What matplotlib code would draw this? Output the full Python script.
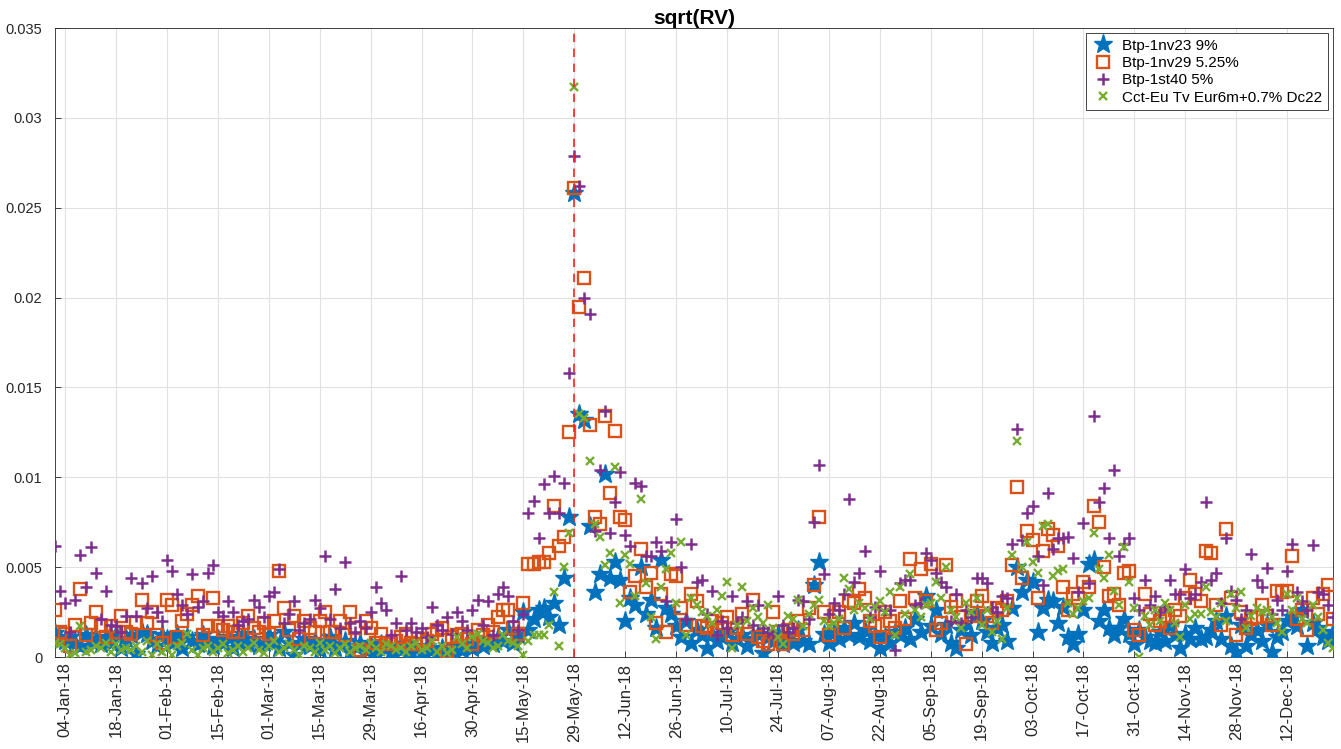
import numpy as np
import pandas as pd
import matplotlib
matplotlib.use("Agg")
import matplotlib.pyplot as plt

plt.rcParams["font.family"] = ["Liberation Sans", "DejaVu Sans"]

# trading days 2018 (Italian market holidays removed)
HOLIDAYS = ["2018-03-30", "2018-04-02", "2018-05-01", "2018-08-15",
            "2018-12-24", "2018-12-25", "2018-12-26"]
days = pd.bdate_range("2018-01-02", "2018-12-28")
days = days[~days.isin(pd.to_datetime(HOLIDAYS))]

SERIES_NAMES = ["Btp-1nv23 9%", "Btp-1nv29 5.25%", "Btp-1st40 5%",
                "Cct-Eu Tv Eur6m+0.7% Dc22"]
EVENT_DATE = "2018-05-29"

# sqrt(RV), in units of 1e-3
btp_1nv23 = [
    1.35, 1.0, 0.9, 1.1, 0.8, 0.6, 1.2, 0.9, 1.0, 0.7,
    1.1, 0.8, 1.3, 0.5, 1.0, 1.2, 0.15, 1.4, 1.3, 0.9,
    0.6, 1.2, 1.0, 0.8, 1.3, 0.5, 1.1, 0.9, 0.7, 1.2,
    0.9, 0.6, 1.0, 0.8, 1.1, 0.5, 0.9, 1.3, 0.7, 1.0,
    0.6, 0.8, 1.2, 0.9, 0.5, 1.4, 0.8, 0.1, 0.7, 1.0,
    0.6, 0.9, 0.4, 0.8, 1.1, 0.5, 0.7, 0.9, 0.3, 0.6,
    0.8, 0.4, 0.6, 0.3, 0.7, 0.5, 0.2, 0.6, 0.4, 0.7,
    0.3, 0.5, 0.2, 0.6, 0.4, 0.1, 0.5, 0.3, 0.2, 0.6,
    0.4, 0.7, 0.5, 0.9, 0.6, 1.0, 0.7, 1.1, 0.9, 1.5,
    0.8, 1.2, 2.5, 1.5, 2.1, 2.6, 2.7, 2.2, 3.0, 1.8,
    4.4, 7.8, 25.8, 13.5, 13.2, 7.3, 3.6, 4.6, 10.2, 4.4,
    5.3, 4.3, 2.0, 3.3, 2.9, 5.0, 2.4, 3.2, 1.6, 5.4,
    2.7, 2.4, 1.7, 1.1, 2.0, 0.8, 1.5, 1.2, 0.5, 1.3,
    0.9, 1.1, 1.4, 0.8, 1.0, 1.2, 0.6, 1.0, 1.3, 0.2,
    1.1, 0.9, 1.3, 0.7, 1.2, 0.8, 1.5, 0.9, 0.7, 4.0,
    5.3, 1.3, 0.8, 1.4, 1.0, 1.6, 1.2, 1.9, 1.1, 1.5,
    0.9, 1.2, 0.5, 1.1, 0.8, 1.4, 1.2, 1.6, 1.0, 2.1,
    1.4, 3.4, 1.7, 2.6, 1.3, 1.8, 0.8, 0.5, 1.5, 1.9,
    1.2, 2.4, 2.0, 1.4, 0.8, 1.6, 1.8, 0.9, 2.7, 5.0,
    3.6, 4.3, 4.2, 1.4, 2.7, 3.2, 3.1, 1.9, 2.8, 1.1,
    0.7, 1.3, 2.6, 5.2, 5.4, 2.0, 2.6, 1.6, 1.2, 1.6,
    2.1, 1.3, 0.75, 1.5, 1.1, 0.9, 0.8, 1.4, 0.9, 1.7,
    1.2, 0.5, 1.3, 1.0, 1.6, 1.0, 1.1, 1.5, 2.0, 1.0,
    2.3, 0.6, 0.3, 1.8, 0.6, 1.2, 1.5, 0.9, 1.8, 0.3,
    1.1, 1.4, 2.0, 2.2, 1.7, 2.6, 0.6, 1.9, 1.6, 1.1,
    0.9, 1.4,
]
btp_1nv29 = [
    2.6, 1.4, 1.3, 0.6, 1.8, 3.8, 1.25, 1.9, 2.5, 1.7,
    1.1, 1.7, 1.4, 2.3, 1.4, 1.3, 1.9, 3.2, 1.9, 2.5,
    1.2, 0.8, 3.2, 2.9, 1.1, 2.0, 2.4, 2.9, 3.4, 1.2,
    1.7, 3.3, 1.7, 1.5, 1.7, 1.4, 1.4, 1.9, 2.3, 1.6,
    1.4, 1.9, 1.3, 2.0, 4.8, 2.7, 1.5, 2.3, 1.0, 2.0,
    1.6, 1.4, 2.0, 2.5, 1.4, 1.4, 2.0, 1.2, 2.5, 1.6,
    0.4, 2.0, 1.6, 0.8, 1.3, 0.8, 0.7, 0.9, 1.1, 1.3,
    0.8, 0.7, 1.0, 0.9, 1.3, 1.5, 1.6, 0.3, 1.1, 1.2,
    1.3, 1.0, 0.7, 1.5, 1.2, 1.8, 1.4, 2.2, 2.6, 2.6,
    1.6, 1.3, 3.0, 5.2, 5.2, 5.3, 5.3, 5.8, 8.4, 6.2,
    6.7, 12.5, 26.1, 19.5, 21.1, 12.9, 7.8, 7.4, 13.4, 9.1,
    12.6, 7.8, 7.6, 3.6, 4.5, 6.0, 3.9, 4.7, 1.9, 3.5,
    1.4, 4.6, 4.5, 2.7, 1.8, 3.5, 3.1, 1.7, 1.6, 2.0,
    1.5, 1.9, 2.2, 1.2, 1.6, 2.4, 1.3, 3.2, 1.1, 0.9,
    0.7, 2.5, 1.4, 0.7, 1.5, 1.3, 2.0, 1.5, 2.7, 4.0,
    7.8, 2.5, 1.2, 2.3, 2.5, 1.6, 3.1, 3.0, 3.8, 3.3,
    2.0, 1.7, 1.1, 2.5, 2.0, 1.6, 3.1, 2.1, 5.45, 3.3,
    4.9, 3.1, 5.2, 1.5, 1.9, 5.1, 2.8, 3.1, 2.2, 0.7,
    2.3, 3.1, 3.4, 2.3, 1.9, 2.7, 2.6, 3.1, 5.1, 9.45,
    4.4, 7.0, 6.5, 3.3, 5.9, 7.1, 6.8, 6.2, 3.9, 2.6,
    3.5, 3.3, 4.2, 3.9, 8.4, 7.5, 5.0, 3.4, 3.5, 2.9,
    4.7, 4.8, 1.5, 1.2, 3.5, 2.4, 1.8, 2.0, 2.3, 1.6,
    2.6, 2.3, 3.3, 4.3, 3.5, 3.1, 5.9, 5.8, 2.9, 1.8,
    7.1, 3.3, 1.2, 2.5, 1.6, 2.1, 2.2, 2.9, 2.3, 1.8,
    3.7, 3.6, 3.7, 5.6, 2.1, 2.6, 1.5, 3.3, 2.4, 3.5,
    4.0, 2.1,
]
btp_1st40 = [
    6.2, 3.7, 3.0, 1.4, 3.2, 5.7, 3.9, 6.1, 4.7, 2.1,
    3.7, 1.8, 1.7, 1.4, 2.3, 4.4, 2.3, 4.1, 2.7, 4.5,
    2.5, 2.0, 5.4, 4.8, 3.5, 2.9, 2.4, 4.6, 2.8, 3.1,
    4.7, 5.1, 2.5, 2.3, 3.1, 2.5, 1.8, 2.0, 2.1, 3.2,
    2.8, 2.2, 3.4, 3.6, 4.9, 1.9, 2.4, 3.1, 1.5, 1.9,
    2.1, 3.2, 2.7, 5.6, 2.1, 3.8, 1.6, 5.3, 1.9, 1.4,
    2.0, 1.6, 2.5, 3.9, 3.0, 2.6, 1.2, 1.9, 4.5, 1.5,
    1.9, 1.4, 1.6, 1.1, 2.8, 1.8, 1.5, 2.2, 1.3, 2.5,
    2.0, 1.5, 2.6, 3.2, 1.8, 3.1, 1.2, 3.5, 3.9, 3.4,
    2.0, 1.5, 2.4, 8.0, 8.7, 6.6, 9.6, 8.0, 10.1, 8.0,
    9.7, 15.8, 27.9, 26.2, 20.0, 19.1, 7.0, 10.4, 13.7, 6.9,
    8.6, 10.3, 6.8, 6.2, 9.7, 9.5, 5.6, 5.6, 6.4, 5.9,
    3.1, 6.4, 7.7, 5.0, 2.1, 6.3, 4.2, 4.3, 2.4, 3.7,
    1.2, 2.0, 1.6, 3.4, 1.9, 2.2, 3.1, 1.8, 2.9, 1.6,
    1.4, 1.3, 3.4, 1.8, 1.4, 1.6, 3.2, 3.1, 2.1, 7.5,
    10.7, 4.6, 2.4, 3.0, 2.6, 3.5, 8.8, 4.2, 4.7, 5.9,
    2.2, 2.8, 4.8, 2.6, 2.6, 0.4, 4.1, 4.3, 4.3, 2.9,
    3.0, 5.8, 5.4, 4.7, 4.2, 3.9, 2.0, 3.5, 1.9, 2.6,
    2.2, 4.4, 4.4, 4.1, 2.8, 2.5, 3.4, 3.3, 6.3, 12.7,
    6.5, 8.0, 8.4, 5.6, 4.0, 9.1, 6.0, 6.6, 6.6, 6.7,
    5.5, 3.6, 7.45, 4.1, 13.4, 8.65, 9.4, 6.6, 10.4, 5.6,
    6.3, 6.6, 3.3, 2.6, 4.3, 2.9, 3.4, 2.5, 2.8, 4.3,
    3.5, 3.5, 4.9, 3.3, 3.5, 4.2, 8.65, 4.3, 4.7, 3.0,
    6.6, 3.7, 3.2, 2.1, 2.6, 5.75, 4.3, 3.9, 4.95, 2.4,
    3.2, 2.6, 4.8, 6.3, 3.6, 3.1, 2.6, 6.25, 3.6, 3.5,
    2.9, 2.2,
]
cct_dc22 = [
    0.8, 0.7, 0.5, 0.1, 0.2, 1.7, 0.3, 0.4, 0.6, 0.5,
    0.8, 0.3, 0.7, 0.4, 0.5, 0.4, 0.6, 0.3, 0.9, 0.1,
    0.7, 0.3, 0.5, 0.1, 0.6, 0.8, 1.3, 0.4, 0.1, 0.5,
    0.6, 0.3, 0.5, 0.7, 0.2, 0.4, 0.6, 0.3, 0.5, 0.8,
    0.4, 0.2, 0.6, 0.9, 0.3, 0.5, 0.7, 0.4, 0.1, 0.6,
    0.5, 0.3, 0.8, 0.4, 0.6, 0.2, 0.5, 0.7, 0.3, 0.5,
    0.6, 0.4, 0.8, 0.5, 0.3, 0.7, 0.6, 0.4, 0.5, 0.3,
    0.6, 0.8, 0.4, 0.5, 0.9, 0.3, 0.6, 0.2, 0.4, 1.1,
    0.7, 0.5, 1.1, 1.3, 0.9, 0.8, 0.5, 0.6, 1.2, 0.9,
    0.8, 0.6, 0.1, 0.9, 1.2, 1.2, 1.2, 1.8, 3.6, 0.6,
    5.0, 6.9, 31.7, 13.5, 13.3, 10.9, 7.4, 6.7, 5.1, 5.8,
    10.6, 3.0, 5.7, 5.2, 3.4, 8.8, 4.1, 2.2, 1.0, 3.9,
    4.9, 5.8, 3.0, 6.4, 1.2, 3.3, 2.9, 2.5, 2.3, 1.9,
    2.6, 3.4, 4.2, 0.5, 1.8, 3.9, 2.0, 2.7, 2.2, 1.9,
    2.9, 1.6, 1.1, 0.7, 2.3, 2.1, 3.2, 1.7, 2.4, 2.9,
    3.2, 2.0, 1.7, 1.9, 2.1, 4.4, 3.8, 2.6, 3.0, 2.7,
    2.1, 2.8, 3.1, 2.5, 3.6, 1.2, 3.9, 2.4, 4.6, 2.6,
    2.2, 2.9, 3.0, 4.2, 3.3, 5.0, 2.6, 2.2, 1.6, 3.0,
    2.5, 3.3, 1.8, 2.6, 1.4, 2.0, 1.0, 2.7, 5.7, 12.0,
    5.0, 6.4, 5.3, 4.7, 7.3, 7.4, 4.5, 4.8, 4.9, 3.0,
    2.4, 2.7, 3.1, 3.3, 6.9, 4.9, 4.4, 5.7, 3.7, 2.9,
    6.1, 4.2, 2.7, 0.0, 2.3, 1.8, 2.6, 2.0, 3.0, 2.6,
    1.9, 1.1, 2.9, 2.1, 2.4, 2.4, 3.9, 2.5, 2.2, 3.0,
    2.0, 3.5, 2.7, 3.6, 1.6, 2.3, 2.7, 2.5, 2.6, 2.2,
    1.9, 1.4, 3.5, 2.6, 3.3, 2.1, 1.9, 2.9, 2.2, 1.5,
    0.8, 0.5,
]

BLUE, ORANGE, PURPLE, GREEN = "#0072BD", "#D95319", "#7E2F8E", "#77AC30"

for s in (btp_1nv23, btp_1nv29, btp_1st40, cct_dc22):
    assert len(s) == len(days), (len(s), len(days))

x = np.arange(len(days))
to_val = lambda s: np.asarray(s) / 1000.0

fig = plt.figure(figsize=(13.41, 7.49), dpi=100)
ax = fig.add_axes([0.041, 0.1228, 0.953, 0.8398])

ax.plot(x, to_val(btp_1nv23), ls="none", marker="*", ms=14, color=BLUE,
        mec=BLUE, label=SERIES_NAMES[0], zorder=3)
ax.plot(x, to_val(btp_1nv29), ls="none", marker="s", ms=8, mfc="none",
        mec=ORANGE, mew=1.7, label=SERIES_NAMES[1], zorder=3)
ax.plot(x, to_val(btp_1st40), ls="none", marker="+", ms=9, color=PURPLE,
        mew=1.8, label=SERIES_NAMES[2], zorder=3)
ax.plot(x, to_val(cct_dc22), ls="none", marker="x", ms=6, color=GREEN,
        mew=1.7, label=SERIES_NAMES[3], zorder=3)

event_idx = int(np.where(days == pd.Timestamp(EVENT_DATE))[0][0])
ax.axvline(event_idx, color="#ff2020", ls=(0, (5, 4)), lw=1.2, zorder=4)

ax.set_xlim(0, len(days) - 1)
ax.set_ylim(0, 0.035)
ax.set_yticks(np.arange(0, 0.0351, 0.005))
ax.yaxis.set_major_formatter(plt.FormatStrFormatter("%g"))
tick_idx = x[2::10]
ax.set_xticks(tick_idx)
ax.set_xticklabels(days[tick_idx].strftime("%d-%b-%y"), rotation=90)
ax.tick_params(direction="in", length=4, width=0.6, colors="#262626")
ax.tick_params(axis="y", labelsize=10.5, pad=9)
ax.tick_params(axis="x", labelsize=12, pad=4)
ax.grid(True, color="#e1e1e1", lw=0.8)
ax.set_axisbelow(True)
for sp in ax.spines.values():
    sp.set_color("#262626")
    sp.set_linewidth(0.6)

ax.set_title("sqrt(RV)", fontweight="bold", fontsize=15, pad=3)
leg = ax.legend(loc="upper right", fontsize=11, frameon=True, fancybox=False,
                framealpha=1, edgecolor="#262626", borderaxespad=0.35,
                handletextpad=0.5, borderpad=0.35, labelspacing=0.22,
                handlelength=1.5)
leg.get_frame().set_linewidth(0.6)

fig.savefig("out.png", dpi=100)
